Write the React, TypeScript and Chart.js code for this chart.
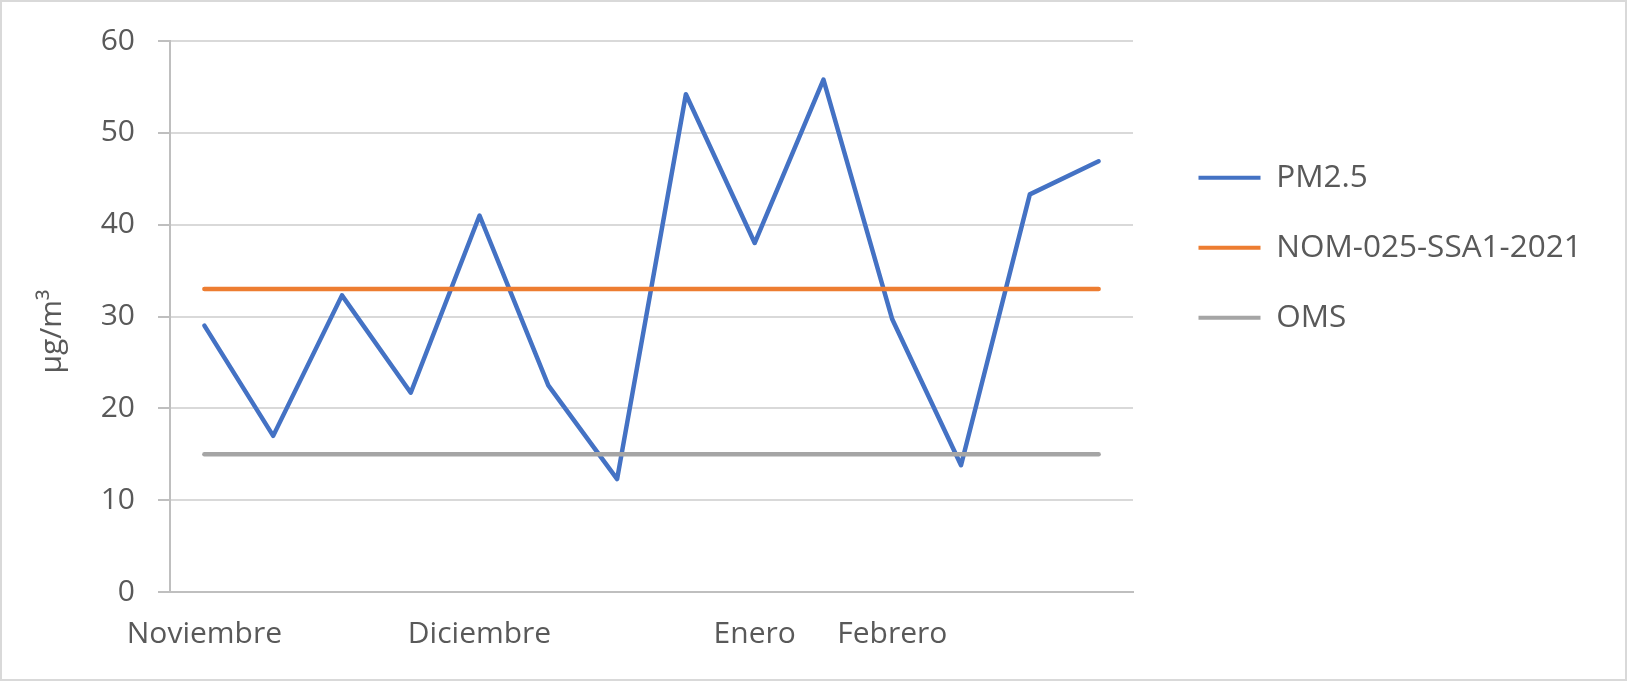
import React, { useEffect, useRef } from "react";
import { Chart, registerables } from "chart.js";

Chart.register(...registerables);

const categories = ["Noviembre", "", "", "", "Diciembre", "", "", "", "Enero", "", "Febrero", "", "", ""];
const pm25 = [29, 17, 32.3, 21.7, 41, 22.5, 12.3, 54.2, 38, 55.8, 29.7, 13.8, 43.3, 46.9];
const nom = [33, 33, 33, 33, 33, 33, 33, 33, 33, 33, 33, 33, 33, 33];
const oms = [15, 15, 15, 15, 15, 15, 15, 15, 15, 15, 15, 15, 15, 15];
const seriesNames = ["PM2.5", "NOM-025-SSA1-2021", "OMS"];
const seriesColors = ["#4472C4", "#ED7D31", "#A5A5A5"];
const yTitle = "µg/m³";

const TEXT = "#595959";
const FONT = "'Open Sans', 'Noto Sans', sans-serif";
const LEGEND_WIDTH = 469;

const legendWidthPlugin = {
  id: "legendWidth",
  beforeLayout(chart: any) {
    const lg: any = chart.legend;
    if (lg && !lg.__fixedWidth) {
      const orig = lg.fit.bind(lg);
      lg.fit = () => {
        orig();
        lg.width = LEGEND_WIDTH;
      };
      lg.__fixedWidth = true;
    }
  },
};

export default function App() {
  const ref = useRef<HTMLCanvasElement | null>(null);

  useEffect(() => {
    if (!ref.current) return;
    const chart = new Chart(ref.current, {
      type: "line",
      data: {
        labels: categories,
        datasets: [
          { label: seriesNames[0], data: pm25, borderColor: seriesColors[0], backgroundColor: seriesColors[0], order: 2 },
          { label: seriesNames[1], data: nom, borderColor: seriesColors[1], backgroundColor: seriesColors[1], order: 1 },
          { label: seriesNames[2], data: oms, borderColor: seriesColors[2], backgroundColor: seriesColors[2], order: 0 },
        ].map((d) => ({
          ...d,
          borderWidth: 4.5,
          pointRadius: 0,
          pointHoverRadius: 0,
          tension: 0,
          fill: false,
          borderCapStyle: "round" as const,
          borderJoinStyle: "round" as const,
        })),
      },
      plugins: [legendWidthPlugin],
      options: {
        responsive: false,
        animation: false,
        layout: { padding: { top: 39, right: 0, bottom: 7, left: 0 } },
        plugins: {
          tooltip: { enabled: false },
          legend: {
            position: "right",
            align: "start",
            title: { display: true, text: "", font: { size: 12 }, padding: { top: 70, bottom: 0 } },
            labels: {
              boxWidth: 62,
              boxHeight: 4,
              padding: 38.5,
              color: TEXT,
              font: { family: FONT, size: 31.5 },
              generateLabels: (c: any) =>
                c.data.datasets.map((ds: any, i: number) => ({
                  text: ds.label,
                  fillStyle: ds.borderColor,
                  strokeStyle: ds.borderColor,
                  lineWidth: 0,
                  hidden: false,
                  datasetIndex: i,
                  fontColor: TEXT,
                })),
            },
          },
        },
        scales: {
          x: {
            type: "category",
            offset: true,
            grid: { display: false, drawTicks: false },
            border: { display: true, color: "#BFBFBF", width: 2 },
            ticks: {
              autoSkip: false,
              maxRotation: 0,
              minRotation: 0,
              padding: 24.5,
              color: TEXT,
              font: { family: FONT, size: 30 },
            },
          },
          y: {
            type: "linear",
            position: "left",
            min: 0,
            max: 60,
            afterFit: (s: any) => {
              s.width = 170;
            },
            ticks: {
              stepSize: 10,
              padding: 23,
              color: TEXT,
              font: { family: FONT, size: 30 },
            },
            grid: { color: "#D9D9D9", lineWidth: 2, tickLength: 12, tickColor: "#BFBFBF", tickWidth: 2 },
            border: { display: true, color: "#BFBFBF", width: 2 },
            title: {
              display: true,
              text: yTitle + "\u2002\u2002",
              color: TEXT,
              font: { family: FONT, size: 30 },
              padding: { top: 34, bottom: 0 },
            },
          },
          yR: {
            type: "linear",
            position: "right",
            display: true,
            afterFit: (s: any) => {
              s.width = 27;
            },
            ticks: { display: false },
            grid: { display: false, drawTicks: false },
            border: { display: false },
          },
        },
      },
    } as any);
    return () => chart.destroy();
  }, []);

  return (
    <div style={{ position: "fixed", left: 0, top: 0, width: 1629, height: 684, background: "#fff" }}>
      <canvas ref={ref} width={1629} height={684} style={{ display: "block", width: 1629, height: 684 }} />
      <div
        style={{
          position: "absolute",
          left: 0,
          top: 0,
          width: 1627,
          height: 681,
          border: "2px solid #D9D9D9",
          boxSizing: "border-box",
          pointerEvents: "none",
        }}
      />
    </div>
  );
}
